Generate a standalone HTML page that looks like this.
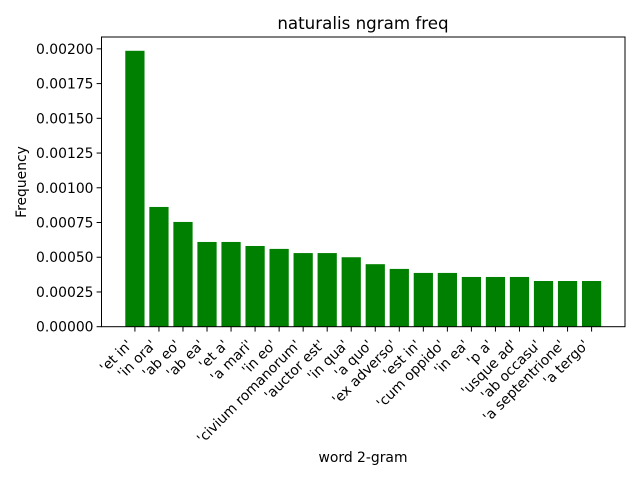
<!DOCTYPE html>
<html><head><meta charset="utf-8"><style>
body{margin:0;background:#fff;}
svg text{font-family:"DejaVu Sans","Liberation Sans",sans-serif;fill:#000;}
</style></head><body>
<svg id="chart" width="640" height="480" xmlns="http://www.w3.org/2000/svg">
<rect width="640" height="480" fill="#fff"/>
<text x="363" y="29" font-size="16.7" text-anchor="middle">naturalis ngram freq</text>
<text x="363" y="462" font-size="13.9" text-anchor="middle">word 2-gram</text>
<text transform="translate(26,182) rotate(-90)" font-size="13.9" text-anchor="middle">Frequency</text>
<g id="bars"></g><g id="xt"></g><g id="yt"></g>
<rect x="101.5" y="37" width="523.5" height="289.7" fill="none" stroke="#000" stroke-width="1"/>
</svg>
<script>
const categories=["'et in'","'in ora'","'ab eo'","'ab ea'","'et a'","'a mari'","'in eo'","'civium romanorum'","'auctor est'","'in qua'","'a quo'","'ex adverso'","'est in'","'cum oppido'","'in ea'","'p a'","'usque ad'","'ab occasu'","'a septentrione'","'a tergo'"];
const values=[0.001986,0.000862,0.000754,0.00061,0.00061,0.000581,0.00056,0.00053,0.00053,0.0005,0.00045,0.000416,0.000387,0.000387,0.000358,0.000358,0.000358,0.000329,0.000329,0.000329];
const yTicks=[0,0.00025,0.0005,0.00075,0.001,0.00125,0.0015,0.00175,0.002];
const yTickLabels=["0.00000","0.00025","0.00050","0.00075","0.00100","0.00125","0.00150","0.00175","0.00200"];
const NS="http://www.w3.org/2000/svg";
const L=101.5,R=625,T=37,B=326.7;
const n=categories.length;
const xmin=-0.4-(n-0.2)*0.05, xmax=n-1+0.4+(n-0.2)*0.05;
const xs=v=>L+(v-xmin)/(xmax-xmin)*(R-L);
const ymax=Math.max(...values)*1.05;
const ys=v=>B-v/ymax*(B-T);
const bars=document.getElementById('bars'),xt=document.getElementById('xt'),yt=document.getElementById('yt');
values.forEach((v,i)=>{
 const r=document.createElementNS(NS,'rect');
 r.setAttribute('x',xs(i-0.4));r.setAttribute('width',xs(i+0.4)-xs(i-0.4));
 r.setAttribute('y',ys(v));r.setAttribute('height',B-ys(v));r.setAttribute('fill','#008000');
 
 
 bars.appendChild(r);
 const x=xs(i);
 const t=document.createElementNS(NS,'line');
 t.setAttribute('x1',x);t.setAttribute('x2',x);t.setAttribute('y1',B);t.setAttribute('y2',B+4.9);t.setAttribute('stroke','#000');
 
 
 xt.appendChild(t);
 const lb=document.createElementNS(NS,'text');
 lb.setAttribute('font-size','13.9');lb.setAttribute('text-anchor','end');
 lb.setAttribute('transform','translate('+(x-2)+','+(B+19)+') rotate(-45)');
 lb.textContent=categories[i];
 
 
 xt.appendChild(lb);
});
yTicks.forEach((v,i)=>{
 const y=ys(v);
 const t=document.createElementNS(NS,'line');
 t.setAttribute('x1',L-4.9);t.setAttribute('x2',L);t.setAttribute('y1',y);t.setAttribute('y2',y);t.setAttribute('stroke','#000');
 
 
 yt.appendChild(t);
 const lb=document.createElementNS(NS,'text');
 lb.setAttribute('x',L-8);lb.setAttribute('y',y+5);lb.setAttribute('font-size','13.9');lb.setAttribute('text-anchor','end');
 lb.textContent=yTickLabels[i];
 
 
 yt.appendChild(lb);
});
</script>
</body></html>
